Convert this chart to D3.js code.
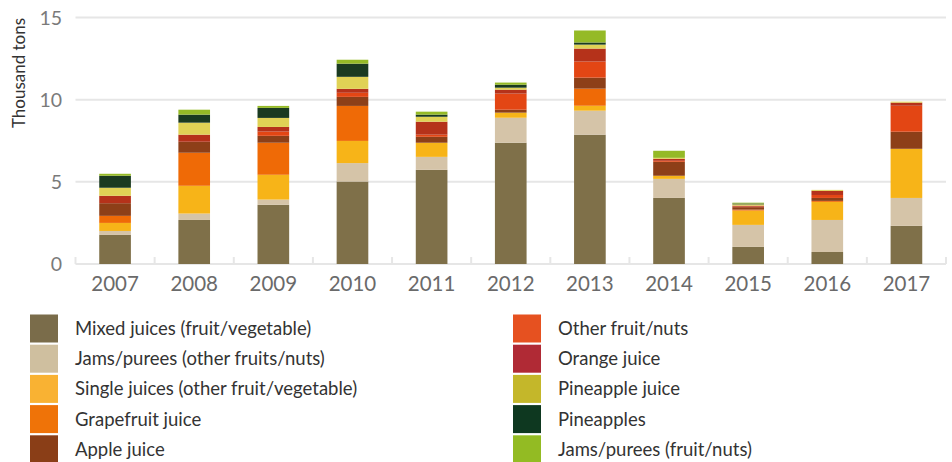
<!DOCTYPE html>
<html>
<head>
<meta charset="utf-8">
<script src="https://cdn.jsdelivr.net/npm/d3@7"></script>
<style>
  body { margin: 0; background: #fff; }
  svg { display: block; font-family: Lato, "Open Sans", sans-serif; }
</style>
</head>
<body>
<svg id="chart" width="952" height="462"></svg>
<script>
// categories and series (thousand tons), bottom to top
var years = ["2007", "2008", "2009", "2010", "2011", "2012", "2013", "2014", "2015", "2016", "2017"];
var seriesNames = [
  "Mixed juices (fruit/vegetable)",
  "Jams/purees (other fruits/nuts)",
  "Single juices (other fruit/vegetable)",
  "Grapefruit juice",
  "Apple juice",
  "Other fruit/nuts",
  "Orange juice",
  "Pineapple juice",
  "Pineapples",
  "Jams/purees (fruit/nuts)"
];
var mixedJuices    = [1.77, 2.68, 3.60, 5.02, 5.73, 7.38, 7.87, 4.02, 1.04, 0.73, 2.32];
var jamsOther      = [0.24, 0.39, 0.32, 1.12, 0.79, 1.52, 1.46, 1.16, 1.34, 1.95, 1.70];
var singleJuices   = [0.49, 1.69, 1.51, 1.35, 0.86, 0.31, 0.30, 0.19, 0.87, 1.10, 2.99];
var grapefruit     = [0.43, 2.01, 1.95, 2.13, 0.00, 0.00, 1.04, 0.00, 0.06, 0.06, 0.00];
var appleJuice     = [0.77, 0.67, 0.42, 0.55, 0.36, 0.18, 0.67, 0.85, 0.15, 0.18, 1.04];
var otherFruit     = [0.00, 0.00, 0.26, 0.25, 0.13, 0.98, 0.98, 0.06, 0.03, 0.18, 1.58];
var orangeJuice    = [0.45, 0.43, 0.28, 0.24, 0.79, 0.24, 0.79, 0.12, 0.06, 0.25, 0.19];
var pineappleJuice = [0.49, 0.73, 0.55, 0.73, 0.30, 0.12, 0.24, 0.06, 0.08, 0.06, 0.06];
var pineapples     = [0.73, 0.49, 0.61, 0.80, 0.13, 0.18, 0.13, 0.00, 0.05, 0.00, 0.00];
var jamsFruitNuts  = [0.12, 0.30, 0.12, 0.24, 0.18, 0.13, 0.73, 0.43, 0.05, 0.00, 0.00];
var yTicks = [0, 5, 10, 15];

var colors = ["#7f7049", "#d5c4a8", "#f7b418", "#ef6a06", "#8d3f18",
              "#e34614", "#b5321a", "#e0d255", "#1a3a20", "#95ba26"];
var legendColors = ["#7a6c4a", "#cfbf9f", "#f9b233", "#ef7308", "#8a3e17",
                    "#e65120", "#b02a35", "#c4b72a", "#0e3820", "#93bb23"];

var allSeries = [mixedJuices, jamsOther, singleJuices, grapefruit, appleJuice,
                 otherFruit, orangeJuice, pineappleJuice, pineapples, jamsFruitNuts];

var rows = years.map(function(y, i) {
  var r = {year: y};
  seriesNames.forEach(function(n, k) { r[n] = allSeries[k][i]; });
  return r;
});

var svg = d3.select("#chart");
var x0 = 75.5, x1 = 946, yBase = 264, yTop = 17.5;

var x = d3.scaleBand().domain(years).range([x0, x1])
  .paddingInner(0.6).paddingOuter(0.3);
var y = d3.scaleLinear().domain([0, 15]).range([yBase, yTop]);

// gridlines
svg.append("g").selectAll("line")
  .data(yTicks)
  .enter().append("line")
  .attr("x1", x0).attr("x2", x1)
  .attr("y1", function(d) { return y(d); })
  .attr("y2", function(d) { return y(d); })
  .attr("stroke", "#e6e6e6")
  .attr("stroke-width", 2);

// small separator ticks on baseline
var step = x.step();
svg.append("g").selectAll("line")
  .data(d3.range(years.length + 1))
  .enter().append("line")
  .attr("x1", function(i) { return x0 + i * step; })
  .attr("x2", function(i) { return x0 + i * step; })
  .attr("y1", yBase - 7).attr("y2", yBase)
  .attr("stroke", "#e6e6e6")
  .attr("stroke-width", 2);

// y labels
svg.append("g").selectAll("text")
  .data(yTicks)
  .enter().append("text")
  .attr("x", 62)
  .attr("y", function(d) { return y(d) + 7; })
  .attr("text-anchor", "end")
  .attr("fill", "#7a7a7a")
  .attr("font-size", 19.5)
  .text(function(d) { return d; });

svg.append("text")
  .attr("transform", "translate(25,73) rotate(-90)")
  .attr("text-anchor", "middle")
  .attr("fill", "#333")
  .attr("font-size", 17)
  .text("Thousand tons");

// stacked bars
var stack = d3.stack().keys(seriesNames)(rows);
svg.append("g").selectAll("g")
  .data(stack)
  .enter().append("g")
  .attr("fill", function(d, i) { return colors[i]; })
  .selectAll("rect")
  .data(function(d) { return d; })
  .enter().append("rect")
  .attr("x", function(d) { return x(d.data.year); })
  .attr("width", x.bandwidth())
  .attr("y", function(d) { return y(d[1]); })
  .attr("height", function(d) { return y(d[0]) - y(d[1]); });

// year labels
svg.append("g").selectAll("text")
  .data(years)
  .enter().append("text")
  .attr("x", function(d) { return x(d) + x.bandwidth() / 2; })
  .attr("y", 291)
  .attr("text-anchor", "middle")
  .attr("fill", "#6a6a6a")
  .attr("font-size", 20.5)
  .text(function(d) { return d; });

// legend
var legend = svg.append("g").selectAll("g")
  .data(seriesNames)
  .enter().append("g")
  .attr("transform", function(d, i) {
    var col = Math.floor(i / 5), row = i % 5;
    return "translate(" + (col ? 513 : 30) + "," + (314.5 + row * 30.2) + ")";
  });
legend.append("rect")
  .attr("width", 28).attr("height", 28)
  .attr("fill", function(d, i) { return legendColors[i]; });
legend.append("text")
  .attr("x", 45)
  .attr("y", 20.5)
  .attr("fill", "#333")
  .attr("font-size", 18.5)
  .text(function(d) { return d; });
</script>
</body>
</html>
